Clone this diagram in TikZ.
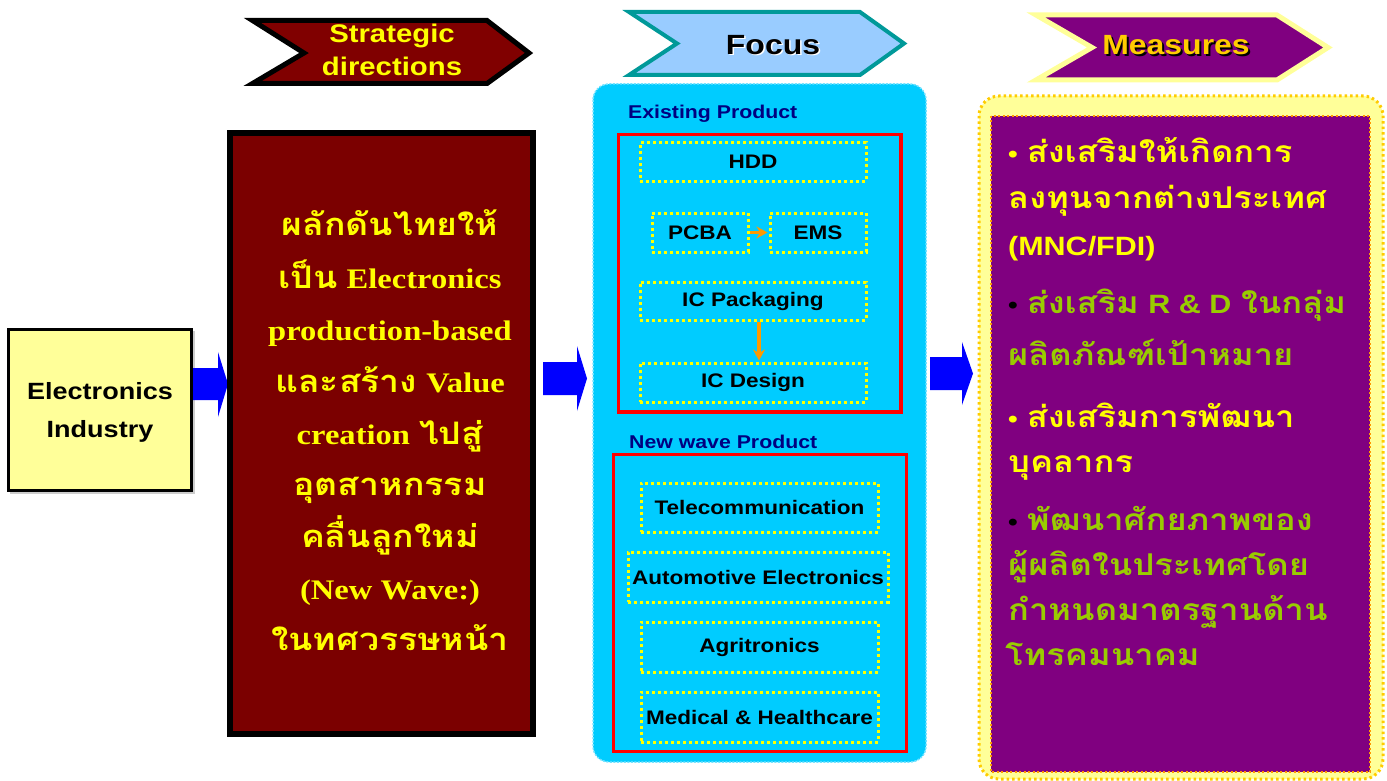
\documentclass[tikz,border=0pt]{standalone}
\usepackage{fontspec}
\setmainfont{Liberation Sans}[FakeStretch=1.15]
\newfontfamily\thai[Script=Thai,FakeStretch=1.15]{Loma}
\newfontfamily\tnr[FakeStretch=1.15]{Liberation Serif}
\usetikzlibrary{calc,arrows.meta}
\definecolor{maroonC}{HTML}{800000}
\definecolor{boxred}{HTML}{7B0000}
\definecolor{lightblueC}{HTML}{99CCFF}
\definecolor{tealC}{HTML}{009999}
\definecolor{purpleC}{HTML}{800080}
\definecolor{ltyellow}{HTML}{FFFF99}
\definecolor{goldC}{HTML}{FFCC00}
\definecolor{cyanC}{HTML}{00CCFF}
\definecolor{navyC}{HTML}{000080}
\definecolor{redC}{HTML}{FF0000}
\definecolor{orangeC}{HTML}{FF9900}
\definecolor{greenT}{HTML}{99CC00}
\definecolor{blueA}{HTML}{0000FF}
\definecolor{yellowT}{HTML}{FFFF00}
\tikzset{
  blockarrow/.style={fill=blueA, draw=none},
  dotbox/.style={draw=yellowT, line width=3pt, dash pattern=on 3pt off 3pt, inner sep=0pt},
  prodtext/.style={font=\fontsize{19.6}{22}\selectfont\bfseries, text=black},
  redframe/.style={draw=redC, line width=3.5pt},
  subhead/.style={font=\fontsize{18.5}{22}\selectfont\bfseries, text=navyC, anchor=base west, inner sep=0pt},
  orangearrow/.style={draw=orangeC, line width=3.5pt, -{Stealth[length=11pt,width=12pt]}, shorten >=1pt},
  maroonline/.style={anchor=base, inner sep=0pt, text=yellowT, font=\fontsize{28.3}{32}\selectfont\bfseries},
  measline/.style={anchor=base west, inner sep=0pt, font=\fontsize{30}{34}\selectfont\bfseries},
}
\newcommand{\ThaiB}[1]{{\thai\bfseries\fontsize{31}{34}\selectfont #1}}
\newcommand{\MThai}[1]{{\thai\bfseries\fontsize{30}{34}\selectfont #1}}
\newcommand{\RomB}[1]{{\tnr\bfseries #1}}
\newcommand{\bul}{{\fontsize{24}{30}\selectfont •}\hspace{9pt}}
\begin{document}
\begin{tikzpicture}[x=1pt,y=-1pt]
\useasboundingbox (0,0) rectangle (1387,781);
\fill[white] (0,0) rectangle (1387,781);

% header chevrons
\draw[line width=5pt, draw=black, fill=maroonC, line join=miter]
  (252.5,20.5) -- (487,20.5) -- (529,53) -- (487,83.5) -- (252.5,83.5) -- (304,53) -- cycle;
\node[align=center, text=yellowT, font=\fontsize{25.5}{33}\selectfont\bfseries] (sd) at (392,50) {Strategic\\directions};

\draw[line width=4pt, draw=tealC, fill=lightblueC, line join=miter]
  (629,12) -- (860,12) -- (904,43.5) -- (860,75) -- (629,75) -- (677,43.5) -- cycle;
\node[text=white, font=\fontsize{27.8}{30}\selectfont\bfseries] at (774.5,46.5) {Focus};
\node[text=black, font=\fontsize{27.8}{30}\selectfont\bfseries] (fc) at (773,45) {Focus};

\draw[line width=5pt, draw=ltyellow, fill=purpleC, line join=miter]
  (1036,15) -- (1277,15) -- (1328,47.5) -- (1277,80) -- (1036,80) -- (1092,47.5) -- cycle;
\node[text=black, font=\fontsize{27.8}{30}\selectfont\bfseries] at (1178,47.5) {Measures};
\node[text=goldC, font=\fontsize{27.8}{30}\selectfont\bfseries] (ms) at (1176,45.5) {Measures};

% Electronics Industry box
\fill[black!20] (10,331) rectangle (195,494);
\node[draw=black, line width=3pt, fill=ltyellow, minimum width=183pt, minimum height=161pt] (ei) at (100,410) {};
\node[align=center, font=\fontsize{23.5}{38}\selectfont\bfseries] (eit) at (100,412) {Electronics\\Industry};

% blue arrow 1
\fill[blockarrow] (ei.east |- 0,368) -- (218,368) -- (218,352) -- (228,384) -- (218,417) -- (218,400) -- (ei.east |- 0,400) -- cycle;

% Strategic box
\node[draw=black, line width=6pt, fill=boxred, minimum width=303pt, minimum height=601pt] (sb) at (381.5,433.5) {};
\node[maroonline] (t1) at (390,235) {\ThaiB{ผลักดันไทยให้}};
\node[maroonline] (t2) at (390,288) {\ThaiB{เป็น} \RomB{Electronics}};
\node[maroonline] (t3) at (390,340) {\RomB{production-based}};
\node[maroonline] (t4) at (390,392) {\ThaiB{และสร้าง} \RomB{Value}};
\node[maroonline] (t5) at (390,444) {\RomB{creation} \ThaiB{ไปสู่}};
\node[maroonline] (t6) at (390,495) {\ThaiB{อุตสาหกรรม}};
\node[maroonline] (t7) at (390,547) {\ThaiB{คลื่นลูกใหม่}};
\node[maroonline] (t8) at (390,599) {\RomB{(New Wave:)}};
\node[maroonline] (t9) at (390,650) {\ThaiB{ในทศวรรษหน้า}};

% blue arrow 2
\fill[blockarrow] (543,362) -- (577,362) -- (577,346) -- (587,378.5) -- (577,411) -- (577,395) -- (543,395) -- cycle;

% Focus panel
\draw[fill=cyanC, draw=cyanC!55, line width=1.5pt, dash pattern=on 2pt off 1.5pt, rounded corners=16pt]
  (593,84) rectangle (926,762);
\node[subhead] (ep) at (628,119) {Existing Product};
\draw[redframe] (618.5,134.5) rectangle (901,412);
\node[dotbox, minimum width=226pt, minimum height=38pt, prodtext] (hdd) at (753,162) {HDD};
\node[dotbox, minimum width=96pt, minimum height=39pt, prodtext] (pcba) at (700,232.5) {PCBA};
\node[dotbox, minimum width=96pt, minimum height=39pt, prodtext] (ems) at (818,232.5) {EMS};
\node[dotbox, minimum width=226pt, minimum height=38pt, prodtext] (icp) at (753,301) {IC Packaging};
\node[dotbox, minimum width=226pt, minimum height=39pt, prodtext] (icd) at (753,382.5) {IC Design};
\draw[orangearrow] (pcba.east) -- (ems.west);
\draw[orangearrow] (icp.south -| 759,0) -- (icd.north -| 759,0);

\node[subhead] (nw) at (629,448) {New wave Product};
\draw[redframe] (613.5,454.5) rectangle (906.5,751.5);
\node[dotbox, minimum width=237pt, minimum height=49pt, prodtext] (tel) at (759.5,507.5) {Telecommunication};
\node[dotbox, minimum width=260pt, minimum height=50pt, prodtext] (aut) at (758,577) {Automotive Electronics};
\node[dotbox, minimum width=237pt, minimum height=50pt, prodtext] (agr) at (759.5,647) {Agritronics};
\node[dotbox, minimum width=237pt, minimum height=50pt, prodtext] (med) at (759.5,717) {Medical \& Healthcare};

% blue arrow 3
\fill[blockarrow] (930,357) -- (962,357) -- (962,342) -- (973,373.5) -- (962,405) -- (962,390) -- (930,390) -- cycle;

% Measures panel
\draw[fill=ltyellow, draw=goldC, line width=3pt, dash pattern=on 2.5pt off 3pt, rounded corners=20pt]
  (979,96) rectangle (1383,779);
\draw[fill=purpleC, draw=orangeC, line width=2.5pt, dash pattern=on 2pt off 2.5pt]
  (991,116) rectangle (1370,772);

\node[measline, text=yellowT] (m1) at (1008,163) {\bul\MThai{ส่งเสริมให้เกิดการ}};
\node[measline, text=yellowT] (m2) at (1008,208) {\MThai{ลงทุนจากต่างประเทศ}};
\node[measline, text=yellowT, font=\fontsize{26.5}{30}\selectfont\bfseries] (m3) at (1008,255) {(MNC/FDI)};
\node[measline, text=greenT] (m4) at (1008,313) {\textcolor{black}{\bul}\MThai{ส่งเสริม} {\fontsize{26.5}{30}\selectfont R \& D} \MThai{ในกลุ่ม}};
\node[measline, text=greenT] (m5) at (1008,365) {\MThai{ผลิตภัณฑ์เป้าหมาย}};
\node[measline, text=yellowT] (m6) at (1008,427) {\bul\MThai{ส่งเสริมการพัฒนา}};
\node[measline, text=yellowT] (m7) at (1008,472) {\MThai{บุคลากร}};
\node[measline, text=greenT] (m8) at (1008,530) {\textcolor{black}{\bul}\MThai{พัฒนาศักยภาพของ}};
\node[measline, text=greenT] (m9) at (1008,575) {\MThai{ผู้ผลิตในประเทศโดย}};
\node[measline, text=greenT] (m10) at (1008,620) {\MThai{กำหนดมาตรฐานด้าน}};
\node[measline, text=greenT] (m11) at (1005,665) {\MThai{โทรคมนาคม}};
\end{tikzpicture}
\end{document}
